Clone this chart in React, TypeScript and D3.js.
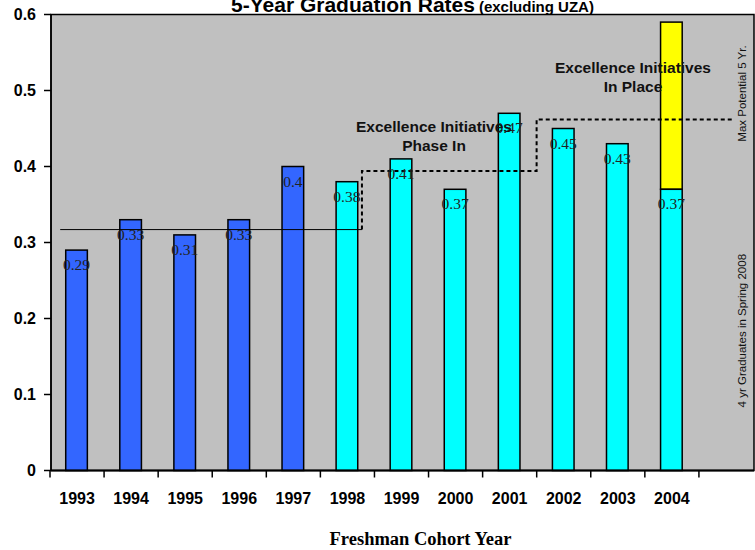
import React from 'react';
import * as d3 from 'd3';

// data
const years = ['1993', '1994', '1995', '1996', '1997', '1998', '1999', '2000', '2001', '2002', '2003', '2004', ''];
const rates = [0.29, 0.33, 0.31, 0.33, 0.4, 0.38, 0.41, 0.37, 0.47, 0.45, 0.43, 0.37];
const rateLabels = ['0.29', '0.33', '0.31', '0.33', '0.4', '0.38', '0.41', '0.37', '0.47', '0.45', '0.43', '0.37'];
const phase = ['pre', 'pre', 'pre', 'pre', 'pre', 'post', 'post', 'post', 'post', 'post', 'post', 'post'];
const potentialExtra = [0, 0, 0, 0, 0, 0, 0, 0, 0, 0, 0, 0.22];
const yTicks = [0, 0.1, 0.2, 0.3, 0.4, 0.5, 0.6];

// reference lines: [band position, value]
const baselinePts: [number, number][] = [[0.17, 0.317], [5.75, 0.317]];
const stepPts: [number, number][] = [
  [5.75, 0.317], [5.75, 0.394], [8.98, 0.394], [8.98, 0.462], [12.6, 0.462],
];

const W = 755;
const H = 550;
const margin = { top: 14.5, right: 1, bottom: 79.5, left: 51 };
const colors: Record<string, string> = { pre: '#3366FF', post: '#00FFFF' };

export default function App() {
  const innerW = W - margin.left - margin.right;
  const innerH = H - margin.top - margin.bottom;

  const x = d3.scaleBand<string>().domain(years.map((y, i) => y || `_${i}`)).range([0, innerW]).padding(0);
  const xPos = d3.scaleLinear().domain([0, years.length]).range([0, innerW]);
  const y = d3.scaleLinear().domain([0, 0.6]).range([innerH, 0]);
  const barW = x.bandwidth() * 0.4;
  const line = d3.line<[number, number]>().x(d => xPos(d[0])).y(d => y(d[1]));
  const sans = 'Arial, "Liberation Sans", sans-serif';
  const serif = '"Times New Roman", "Liberation Serif", serif';

  const bars = rates.map((v, i) => {
    const key = years[i];
    const cx = x(key)! + x.bandwidth() / 2 - 1.5;
    return (
      <g key={key}>
        {potentialExtra[i] > 0 && (
          <rect x={cx - barW / 2} y={y(v + potentialExtra[i])} width={barW}
            height={y(v) - y(v + potentialExtra[i])} fill="#FFFF00" stroke="#000" strokeWidth={1.5} />
        )}
        <rect x={cx - barW / 2} y={y(v)} width={barW} height={innerH - y(v)}
          fill={colors[phase[i]]} stroke="#000" strokeWidth={1.5} />
      </g>
    );
  });

  const labels = rates.map((v, i) => {
    const cx = x(years[i])! + x.bandwidth() / 2 - 1.5;
    return (
      <text key={i} x={cx} y={y(v) + 20} textAnchor="middle" fontFamily={serif} fontSize={15.5} fill="#222">
        {rateLabels[i]}
      </text>
    );
  });

  return (
    <svg width={W} height={H} style={{ position: 'absolute', left: 0, top: 0, background: '#fff' }}>
      <text x={231} y={12} fontFamily={sans} fontWeight="bold" fontSize={21}>
        5-Year Graduation Rates
        <tspan fontSize={15} dx={4}>(excluding UZA)</tspan>
      </text>
      <g transform={`translate(${margin.left},${margin.top})`}>
        <rect width={innerW} height={innerH} fill="#C0C0C0" stroke="#000" strokeWidth={1.5} />
        {bars}
        <path d={line(baselinePts)!} fill="none" stroke="#000" strokeWidth={1} />
        <path d={line(stepPts)!} fill="none" stroke="#000" strokeWidth={2} strokeDasharray="4,3" />
        {labels}
        <text textAnchor="middle" fontFamily={sans} fontWeight="bold" fontSize={15.5} fill="#111">
          <tspan x={383} y={117}>Excellence Initiatives</tspan>
          <tspan x={383} dy={19}>Phase In</tspan>
        </text>
        <text textAnchor="middle" fontFamily={sans} fontWeight="bold" fontSize={15.5} fill="#111">
          <tspan x={582} y={58}>Excellence Initiatives</tspan>
          <tspan x={582} dy={19}>In Place</tspan>
        </text>
        <text transform={`translate(${innerW - 8},${y(0.496)}) rotate(-90)`} textAnchor="middle"
          fontFamily={sans} fontSize={11.5} fill="#111">Max Potential 5 Yr.</text>
        <text transform={`translate(${innerW - 8},${y(0.184)}) rotate(-90)`} textAnchor="middle"
          fontFamily={sans} fontSize={11.5} fill="#111">4 yr Graduates in Spring 2008</text>
        {/* y axis */}
        <line x1={0} x2={0} y1={0} y2={innerH} stroke="#000" strokeWidth={1.5} />
        {yTicks.map(t => (
          <g key={t} transform={`translate(0,${y(t)})`}>
            <line x1={-7} x2={0} stroke="#000" strokeWidth={1.5} />
            <text x={-15} dy="0.36em" textAnchor="end" fontFamily={sans} fontWeight="bold" fontSize={16}>
              {t === 0 ? '0' : d3.format('.1f')(t)}
            </text>
          </g>
        ))}
        {/* x axis */}
        <line x1={0} x2={innerW} y1={innerH} y2={innerH} stroke="#000" strokeWidth={2} />
        {d3.range(years.length).map(i => (
          <line key={i} x1={xPos(i) - 1} x2={xPos(i) - 1} y1={innerH} y2={innerH + 7} stroke="#000" strokeWidth={1.5} />
        ))}
        {years.map((yr, i) => (
          <text key={i} x={x(yr || `_${i}`)! + x.bandwidth() / 2 - 1} y={innerH + 33} textAnchor="middle"
            fontFamily={sans} fontWeight="bold" fontSize={16}>{yr}</text>
        ))}
        <text x={innerW / 2 + 18} y={innerH + 74} textAnchor="middle" fontFamily={serif} fontWeight="bold" fontSize={18.5}>
          Freshman Cohort Year
        </text>
      </g>
    </svg>
  );
}
